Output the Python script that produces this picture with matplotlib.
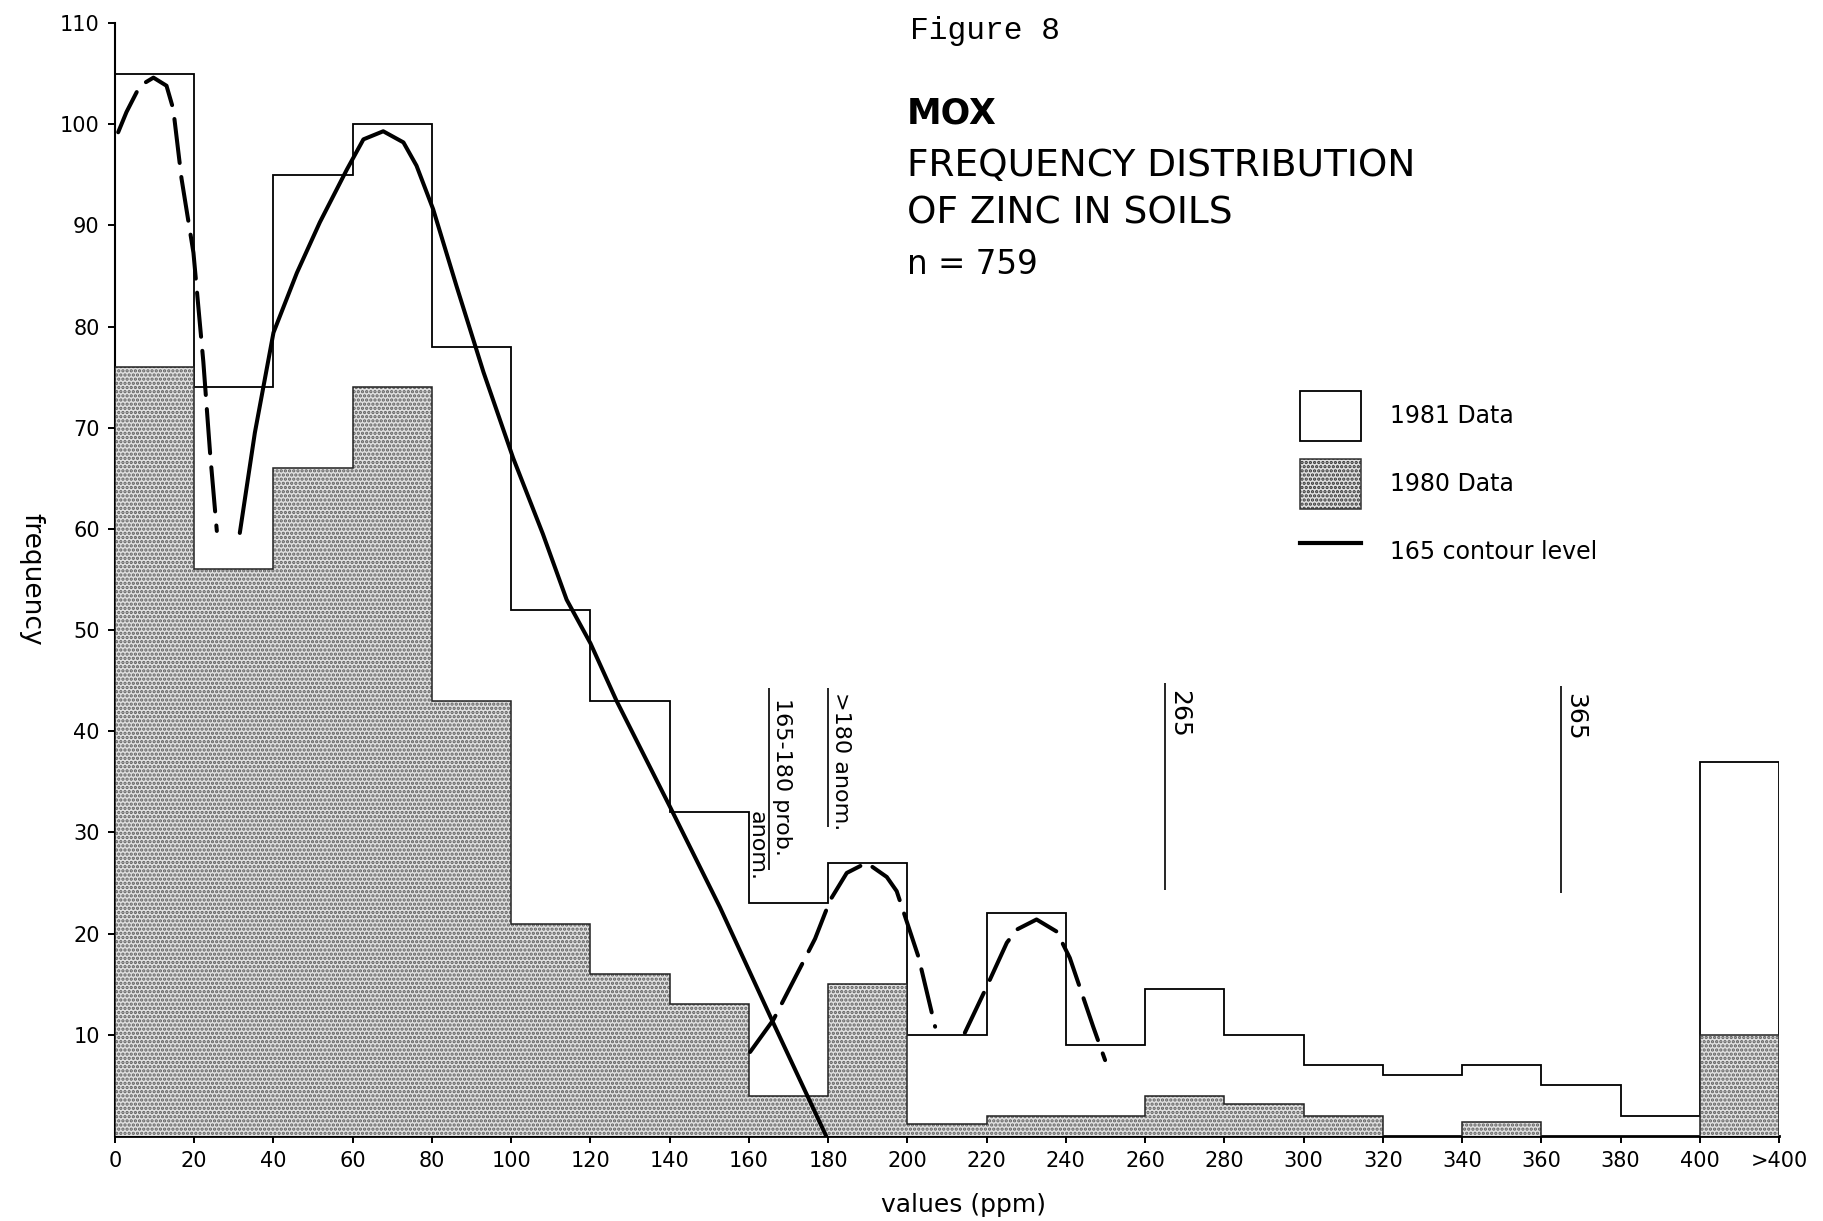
"""Frequency distribution of zinc in soils (MOX, Figure 8)."""

import matplotlib
matplotlib.use("Agg")
import matplotlib.pyplot as plt
from matplotlib.patches import Patch
from matplotlib.lines import Line2D

# bin edges in ppm; the last bin (400-420) is the ">400" class
edges = list(range(0, 421, 20))
tick_labels = [str(v) for v in range(0, 401, 20)] + [">400"]

freq_1981 = [105, 74, 95, 100, 78, 52, 43, 32, 23, 27, 10, 22, 9, 14.5, 10, 7, 6, 7, 5, 2, 37]
freq_1980 = [76, 56, 66, 74, 43, 21, 16, 13, 4, 15, 1.2, 2, 2, 4, 3.2, 2, 0, 1.4, 0, 0, 10]

# hand drawn curves
solid_x = [31.5, 35.3, 40, 45.9, 51.7, 58.5, 62.7, 67.7, 72.8, 76.1, 80.3, 86.2, 93,
           100.5, 108, 114, 120, 126.6, 140, 152.7, 166, 179.5]
solid_y = [59.6, 69.5, 79.4, 85.3, 90.3, 95.5, 98.5, 99.3, 98.2, 95.9, 91.6, 84, 75.5,
           67, 59.5, 53, 48.7, 43, 32.6, 22.6, 11.3, 0]

dash1_x = [0.8, 2.9, 6.3, 9.7, 13, 14.7, 16.8, 19.8, 22.3, 24, 25.7]
dash1_y = [99.2, 101.2, 103.8, 104.6, 103.8, 101.5, 94.6, 87.3, 76.5, 67.5, 59.8]

dash2_x = [160.3, 166.2, 173.7, 176.7, 180.5, 184.7, 189.7, 194.8, 197.3, 202.8, 207]
dash2_y = [8.3, 11.5, 17.2, 19.5, 23.3, 26, 27, 25.6, 24.2, 17.7, 10.8]

dash3_x = [214.5, 219.6, 225.1, 227.6, 232.6, 237.7, 241, 246.9, 249.9]
dash3_y = [10.2, 14.4, 19.1, 20.4, 21.4, 20.2, 17.6, 10.8, 7.5]

# threshold markers: (x, y bottom, y top)
markers = [(165, 26.3, 44.3), (180, 30.5, 44.3), (265, 24.3, 44.8), (365, 24.0, 44.5)]

plt.rcParams['hatch.linewidth'] = 1.6

W, H = 1823, 1221
fig = plt.figure(figsize=(W / 100, H / 100), dpi=100)
ax = fig.add_axes([115 / W, 85 / H, 1664 / W, 1113 / H])

stipple = dict(facecolor='#e0e0e0', edgecolor='#606060', hatch='....', linewidth=0)

ax.stairs(freq_1981, edges, color='black', linewidth=1.3, zorder=2)
ax.stairs(freq_1980, edges, fill=True, zorder=3, **stipple)
ax.stairs(freq_1980, edges, color='#222222', linewidth=1.1, zorder=3.5)

ax.plot(solid_x, solid_y, color='black', linewidth=2.9, solid_capstyle='round', zorder=5)
for xs, ys in [(dash1_x, dash1_y), (dash2_x, dash2_y), (dash3_x, dash3_y)]:
    ax.plot(xs, ys, color='black', linewidth=2.9, dashes=(11, 3.5),
            dash_capstyle='round', zorder=5)

for x, y0, y1 in markers:
    ax.vlines(x, y0, y1, color='black', linewidth=1.2, zorder=4)

rot = dict(rotation=270, rotation_mode='anchor', zorder=6)
ax.text(165.8, 43.3, '165-180 prob.', ha='left', va='bottom', fontsize=16, **rot)
ax.text(164.4, 25.2, 'anom.', ha='right', va='top', fontsize=16, **rot)
ax.text(180.8, 43.9, '>180 anom.', ha='left', va='bottom', fontsize=16, **rot)
ax.text(265.6, 44.1, '265', ha='left', va='bottom', fontsize=18, **rot)
ax.text(365.6, 43.8, '365', ha='left', va='bottom', fontsize=18, **rot)

ax.set_xlim(0, 420)
ax.set_ylim(0, 110)
ax.set_xticks(edges)
ax.set_xticklabels(tick_labels)
ax.set_yticks(range(10, 111, 10))
ax.tick_params(axis='both', labelsize=15, length=5, width=1.4, pad=6, direction='out')
ax.spines['top'].set_visible(False)
ax.spines['right'].set_visible(False)
ax.spines['left'].set_linewidth(1.5)
ax.spines['bottom'].set_linewidth(2.0)
ax.patch.set_alpha(0)

ax.set_xlabel('values (ppm)', fontsize=18)
ax.xaxis.set_label_coords(0.51, -0.051)
ax.set_ylabel('frequency', fontsize=19, rotation=270, va='center')
ax.yaxis.set_label_coords(-0.050, 0.5)

# title block
fig.text(910 / W, 1 - 31 / H, 'Figure 8', family='Liberation Mono', fontsize=22.5, va='center')
fig.text(907 / W, 1 - 113 / H, 'MOX', fontsize=25, fontweight='bold', va='center')
fig.text(907 / W, 1 - 166 / H, 'FREQUENCY DISTRIBUTION', fontsize=27, va='center')
fig.text(907 / W, 1 - 214 / H, 'OF ZINC IN SOILS', fontsize=27, va='center')
fig.text(907 / W, 1 - 265 / H, 'n = 759', fontsize=23.5, va='center')

handles = [
    Patch(facecolor='white', edgecolor='black', linewidth=1.3),
    Patch(**{**stipple, 'linewidth': 1.1}),
    Line2D([0], [0], color='black', linewidth=3),
]
handles[1].set_edgecolor('#333333')
ax.legend(handles, ['1981 Data', '1980 Data', '165 contour level'],
          loc='upper left', bbox_to_anchor=(1300 / W, 1 - 391 / H),
          bbox_transform=fig.transFigure, frameon=False, fontsize=17,
          handlelength=2.6, handleheight=2.9, handletextpad=1.2,
          labelspacing=0.75, borderpad=0, borderaxespad=0)

fig.savefig('out.png', dpi=100)
